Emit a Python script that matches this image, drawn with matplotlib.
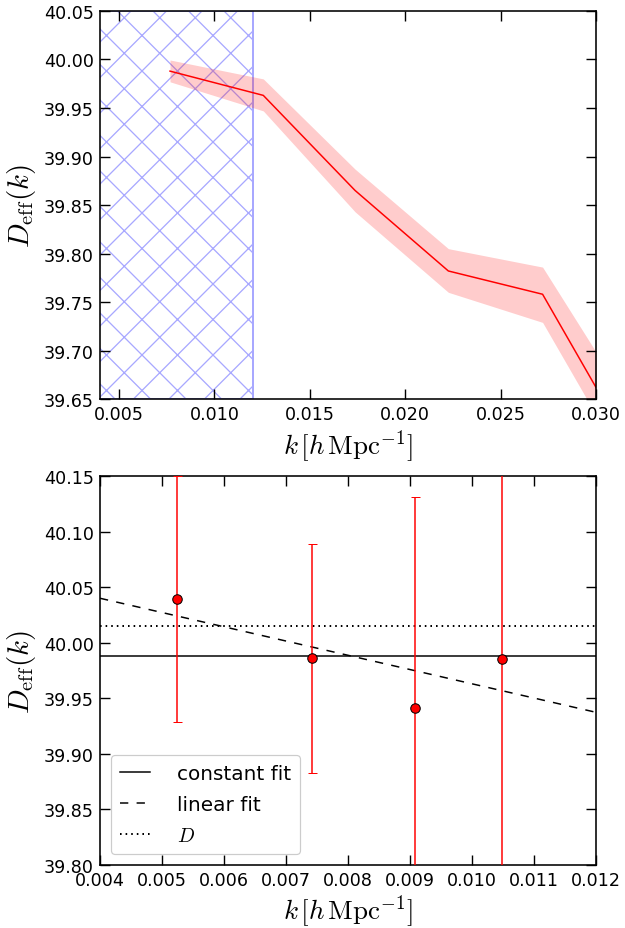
import matplotlib
matplotlib.use("Agg")
import matplotlib.pyplot as plt
import numpy as np

DPI = 213


def px(v):
    # pixel size -> points at the output dpi
    return v * 72.0 / DPI


# scale-dependent effective distance, smoothed curve with band
k_curve = [0.00767, 0.01256, 0.01737, 0.02226, 0.0272, 0.0321]
d_curve = [39.988, 39.963, 39.865, 39.782, 39.758, 39.590]
d_curve_lo = [39.977, 39.947, 39.843, 39.760, 39.729, 39.562]
d_curve_hi = [39.9995, 39.980, 39.887, 39.805, 39.786, 39.633]
k_cut = 0.012

# binned measurements with errors
k_bins = [0.005237, 0.007414, 0.00908, 0.010479]
d_bins = [40.0395, 39.9861, 39.9414, 39.9852]
d_bins_err = [0.111, 0.103, 0.190, 0.25]

const_fit = 39.988
d_true = 40.0152
lin_k = [0.004, 0.012]
lin_fit = [40.0402, 39.9375]

plt.rcParams["mathtext.fontset"] = "cm"
plt.rcParams["font.family"] = "DejaVu Sans"
plt.rcParams["lines.scale_dashes"] = False
plt.rcParams["hatch.linewidth"] = px(1.3)
plt.rcParams["axes.linewidth"] = px(1.6)

fig = plt.figure(figsize=(625 / DPI, 929 / DPI), dpi=DPI)
ax1 = fig.add_axes([0.16, 0.5694, 0.7936, 0.4177])
ax2 = fig.add_axes([0.16, 0.0678, 0.7936, 0.4184])


def style_axis(ax):
    ax.tick_params(which="both", direction="in", top=True, right=True,
                   length=px(10), width=px(1.4), labelsize=px(17.5), pad=px(6))
    ax.set_ylabel(r"$D_{\rm eff}(k)$", fontsize=px(29), labelpad=px(6))
    ax.set_xlabel(r"$k\,[h\,{\rm Mpc}^{-1}]$", fontsize=px(27), labelpad=px(4))


# top panel
ax1.axvspan(0, k_cut, facecolor="none", edgecolor="#a8a8ff", hatch="xx", lw=px(2))
ax1.fill_between(k_curve, d_curve_lo, d_curve_hi, color="red", alpha=0.2, lw=0)
ax1.plot(k_curve, d_curve, color="red", lw=px(1.5))
ax1.set_xlim(0.004, 0.030)
ax1.set_ylim(39.65, 40.05)
ax1.set_xticks(np.arange(0.005, 0.0301, 0.005))
ax1.set_yticks(np.arange(39.65, 40.051, 0.05))
ax1.xaxis.set_major_formatter(matplotlib.ticker.FormatStrFormatter("%.3f"))
ax1.yaxis.set_major_formatter(matplotlib.ticker.FormatStrFormatter("%.2f"))
style_axis(ax1)

# bottom panel
ax2.axhline(const_fit, color="black", lw=px(1.5), label="constant fit")
ax2.plot(lin_k, lin_fit, color="black", lw=px(1.5), dashes=(px(8.3), px(8.3)),
         label="linear fit")
ax2.axhline(d_true, color="black", lw=px(2), dashes=(px(1.6), px(4)),
            label=r"$D$")
ax2.errorbar(k_bins, d_bins, yerr=d_bins_err, fmt="o", color="red",
             ecolor="red", elinewidth=px(1.5), capsize=px(4.5), capthick=px(1.5),
             markersize=px(9.5), markeredgecolor="black", markeredgewidth=px(1),
             zorder=3)
ax2.set_xlim(0.004, 0.012)
ax2.set_ylim(39.80, 40.15)
ax2.set_xticks(np.arange(0.004, 0.01201, 0.001))
ax2.set_yticks(np.arange(39.80, 40.151, 0.05))
ax2.xaxis.set_major_formatter(matplotlib.ticker.FormatStrFormatter("%.3f"))
ax2.yaxis.set_major_formatter(matplotlib.ticker.FormatStrFormatter("%.2f"))
style_axis(ax2)

leg = ax2.legend(loc="lower left", fontsize=px(20), handlelength=1.5,
                 handletextpad=1.35, labelspacing=0.6, borderpad=0.45,
                 borderaxespad=0.55, fancybox=True, framealpha=1.0)
leg.get_frame().set_edgecolor("#cccccc")
leg.get_frame().set_linewidth(px(1.2))

fig.savefig("out.png", dpi=DPI)
